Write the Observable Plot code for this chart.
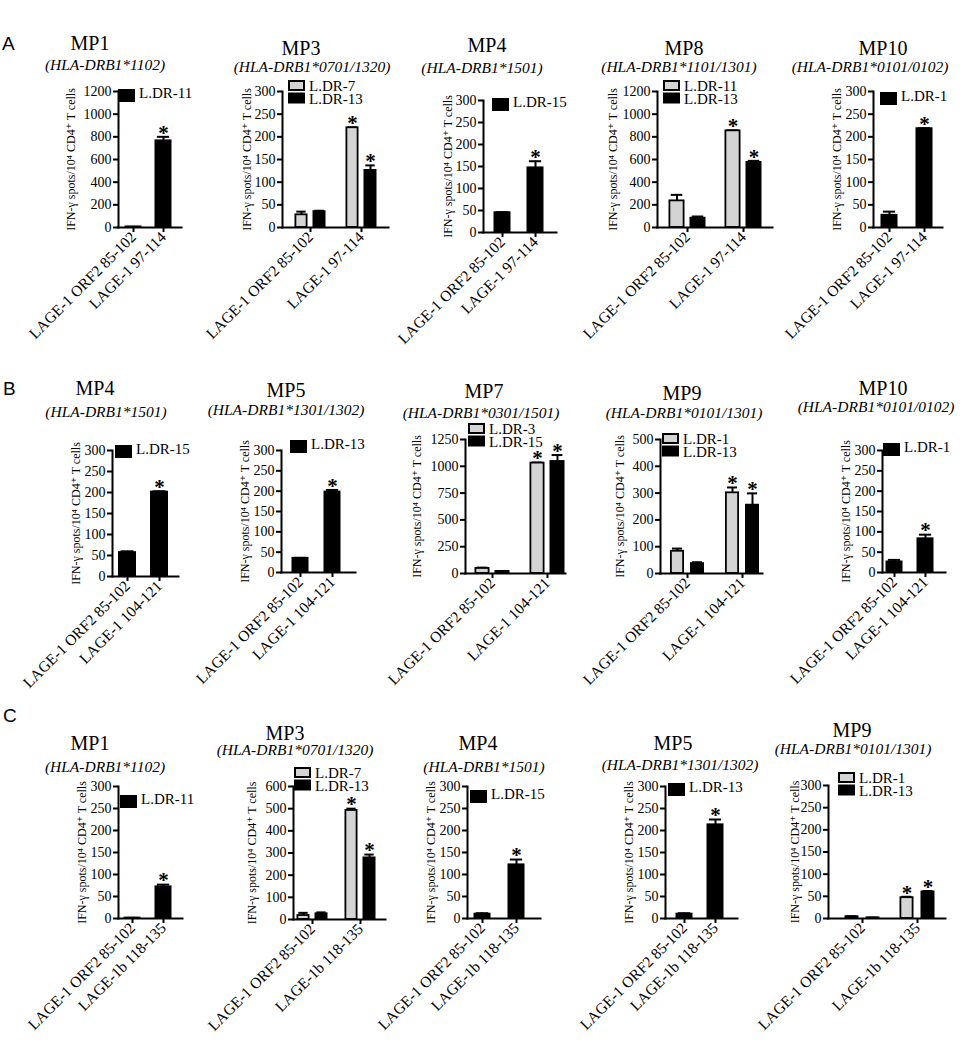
<!DOCTYPE html>
<html><head><meta charset="utf-8">
<script src="https://cdn.jsdelivr.net/npm/d3@7"></script>
<script src="https://cdn.jsdelivr.net/npm/@observablehq/plot@0.6"></script>
<style>
body{margin:0;background:#fff;}
#fig{position:relative;width:963px;height:1050px;overflow:hidden;background:#fff;font-family:"Liberation Serif","Times New Roman",Times,"DejaVu Serif",serif;color:#000}
</style></head><body><div id="fig"></div>
<script>
// ---------------- DATA ----------------
const rowLetters = ["A", "B", "C"];
const categoriesA = ["LAGE-1 ORF2 85-102", "LAGE-1 97-114"];
const categoriesB = ["LAGE-1 ORF2 85-102", "LAGE-1 104-121"];
const categoriesC = ["LAGE-1 ORF2 85-102", "LAGE-1b 118-135"];
const yAxisLabel = "IFN-γ spots/10⁴ CD4⁺ T cells";
const panelTitles = ["MP1","MP3","MP4","MP8","MP10", "MP4","MP5","MP7","MP9","MP10", "MP1","MP3","MP4","MP5","MP9"];
const panelGenotypes = [
  "HLA-DRB1*1102","HLA-DRB1*0701/1320","HLA-DRB1*1501","HLA-DRB1*1101/1301","HLA-DRB1*0101/0102",
  "HLA-DRB1*1501","HLA-DRB1*1301/1302","HLA-DRB1*0301/1501","HLA-DRB1*0101/1301","HLA-DRB1*0101/0102",
  "HLA-DRB1*1102","HLA-DRB1*0701/1320","HLA-DRB1*1501","HLA-DRB1*1301/1302","HLA-DRB1*0101/1301"];
const panelSeries = [
  ["L.DR-11"],["L.DR-7","L.DR-13"],["L.DR-15"],["L.DR-11","L.DR-13"],["L.DR-1"],
  ["L.DR-15"],["L.DR-13"],["L.DR-3","L.DR-15"],["L.DR-1","L.DR-13"],["L.DR-1"],
  ["L.DR-11"],["L.DR-7","L.DR-13"],["L.DR-15"],["L.DR-13"],["L.DR-1","L.DR-13"]];
// means [panel][series][category]
const panelMeans = [
  [[5,765]], [[28,220],[35,126]], [[45,147]], [[235,853],[82,574]], [[27,218]],
  [[57,201]], [[35,198]], [[47,1030],[20,1045]], [[83,301],[37,255]], [[26,83]],
  [[1,72]], [[18,492],[26,278]], [[10,122]], [[10,213]], [[4,47],[1.5,60]]];
// SEM [panel][series][category]
const panelSems = [
  [[1,35]], [[7,1],[2,11]], [[1,15]], [[53,4],[15,14]], [[8,1]],
  [[3,2]], [[1,5]], [[8,5],[2,60]], [[10,20],[5,44]], [[5,10]],
  [[0.5,5]], [[12,8],[6,15]], [[2,12]], [[2,12]], [[1,2],[0.5,2]]];
// significance star [panel][series][category]
const panelStars = panelSeries.map(s => s.map(() => [false, true]));
const yMaxValues = [1200,300,300,1200,300, 300,300,1250,500,300, 300,600,300,300,300];
const yTickSteps = [200,50,50,200,50, 50,50,250,100,50, 50,100,50,50,50];

// ---------------- LAYOUT (pixels) ----------------
const layout = [
  {ax:118,xEnd:181,top:91,zero:227,c1:133,c2:163,bw:17,sp:0,t:[90,50],s:[105,70],lg:[118,89],lo:47},
  {ax:282,xEnd:388,top:91,zero:227,c1:310,c2:361,bw:13,sp:18,t:[301,55],s:[312,72],lg:[288,80],lo:35},
  {ax:483,xEnd:556,top:100,zero:232,c1:502,c2:535,bw:17,sp:0,t:[487,52],s:[482,73],lg:[492,98],lo:35},
  {ax:657,xEnd:772,top:91,zero:227,c1:687,c2:743,bw:16,sp:21,t:[684,55],s:[679,72],lg:[663,80],lo:44},
  {ax:873,xEnd:942,top:91,zero:227,c1:889,c2:924,bw:17,sp:0,t:[883,55],s:[870,72],lg:[880,92],lo:36},
  {ax:112,xEnd:178,top:450,zero:576,c1:127,c2:159,bw:18,sp:0,t:[95,395],s:[106,417],lg:[115,445],lo:36},
  {ax:281,xEnd:355,top:450,zero:572,c1:300,c2:332,bw:17,sp:0,t:[286,397],s:[286,415],lg:[290,440],lo:36},
  {ax:465,xEnd:565,top:439,zero:573,c1:492,c2:547,bw:15,sp:20,t:[484,398],s:[481,418],lg:[468,423],lo:48},
  {ax:660,xEnd:762,top:439,zero:573,c1:687,c2:742,bw:14,sp:20,t:[682,400],s:[684,418],lg:[662,433],lo:40},
  {ax:882,xEnd:945,top:450,zero:572,c1:894,c2:925,bw:17,sp:0,t:[883,395],s:[876,412],lg:[883,443],lo:36},
  {ax:118,xEnd:182,top:786,zero:918,c1:132,c2:163,bw:17,sp:0,t:[90,750],s:[105,772],lg:[120,795],lo:36},
  {ax:293,xEnd:385,top:786,zero:919,c1:312,c2:360,bw:13,sp:18,t:[285,740],s:[295,755],lg:[294,767],lo:41},
  {ax:467,xEnd:540,top:786,zero:918,c1:482,c2:516,bw:17,sp:0,t:[478,750],s:[484,772],lg:[470,790],lo:36},
  {ax:665,xEnd:737,top:786,zero:918,c1:684,c2:715,bw:17,sp:0,t:[673,750],s:[680,770],lg:[668,783],lo:36},
  {ax:828,xEnd:945,top:785,zero:918,c1:862,c2:917,bw:14,sp:21,t:[852,737],s:[853,754],lg:[838,772],lo:33}];
const letterPos = [[2,50],[3,395],[3,722]];

const SERIF = '"Liberation Serif","Times New Roman",Times,"DejaVu Serif",serif';
const SANS = '"Liberation Sans",Arial,"DejaVu Sans",sans-serif';
const LIGHT = "#d4d4d4", DARK = "#000";
const PAD = 0.4, SW = 1.8;
const rowCats = [categoriesA, categoriesB, categoriesC];
const fig = document.getElementById("fig");

for (let i = 0; i < 15; i++) {
  const L = layout[i];
  const cats = rowCats[Math.floor(i / 5)];
  const series = panelSeries[i];
  const n = series.length;
  const rows = [];
  series.forEach((s, j) => cats.forEach((c, k) => rows.push({
    series: s, si: j, cat: c,
    mean: panelMeans[i][j][k], sem: panelSems[i][j][k], star: panelStars[i][j][k]})));
  const mL = 110, mT = 20, mR = 12, mB = 130;
  const W = mL + (L.xEnd - L.ax) + mR;
  const H = mT + (L.zero - L.top) + mB;
  const left = L.ax - mL, top = L.top - mT;
  const step = L.c2 - L.c1;
  const band = step * (1 - PAD);
  const ticks = d3.range(0, yMaxValues[i] + 1e-9, yTickSteps[i]);
  const marks = [];
  series.forEach((s, j) => {
    const d = rows.filter(r => r.si === j);
    const dx = (j - (n - 1) / 2) * L.sp;
    const inset = (band - (L.bw - SW)) / 2;
    const capInset = (band - L.bw * 0.72) / 2;
    const fill = (n === 2 && j === 0) ? LIGHT : DARK;
    marks.push(Plot.ruleX(d, {x: "cat", y1: "mean", y2: r => r.mean + r.sem, dx, strokeWidth: 2}));
    marks.push(Plot.tickY(d, {x: "cat", y: r => r.mean + r.sem, dx, insetLeft: capInset, insetRight: capInset, strokeWidth: 2}));
    marks.push(Plot.barY(d, {x: "cat", y: "mean", fill, stroke: "#000", strokeWidth: SW, dx, insetLeft: inset, insetRight: inset}));
    marks.push(Plot.text(d.filter(r => r.star), {x: "cat", y: r => r.mean + r.sem, dx, dy: -4, text: () => "*", fontSize: 21, fontWeight: "bold"}));
  });
  marks.push(Plot.frame({anchor: "left", strokeWidth: 2, strokeLinecap: "square"}));
  marks.push(Plot.frame({anchor: "bottom", strokeWidth: 2, strokeLinecap: "square"}));
  marks.push(Plot.axisY({ticks, tickFormat: d => String(d), tickSize: 5, tickPadding: 2, fontSize: 14, strokeWidth: 2, label: null}));
  marks.push(Plot.axisX({tickRotate: -45, tickSize: 5, tickPadding: 2, fontSize: 15.5, strokeWidth: 2, label: null}));
  marks.push(Plot.text([yAxisLabel], {frameAnchor: "left", textAnchor: "middle", rotate: -90, dx: -L.lo, fontSize: 12}));
  const svg = Plot.plot({
    width: W, height: H, marginLeft: mL, marginRight: mR, marginTop: mT, marginBottom: mB,
    x: {type: "band", domain: cats, range: [L.c1 - step / 2 - left, L.c2 + step / 2 - left], paddingInner: PAD, paddingOuter: PAD / 2, round: false},
    y: {domain: [0, yMaxValues[i]]},
    style: {fontFamily: SERIF, color: "#000", background: "transparent", overflow: "visible", position: "absolute", left: left + "px", top: top + "px", maxWidth: "none"},
    marks
  });
  svg.setAttribute("font-family", SERIF);
  fig.appendChild(svg);
}

// overlay for titles, legends and panel letters
const ov = d3.select(fig).append("svg")
  .attr("width", 963).attr("height", 1050)
  .style("position", "absolute").style("left", 0).style("top", 0)
  .style("overflow", "visible").style("pointer-events", "none");
rowLetters.forEach((l, r) => {
  ov.append("text").attr("x", letterPos[r][0]).attr("y", letterPos[r][1])
    .style("font-family", SANS).attr("font-size", 19).text(l);
});
for (let i = 0; i < 15; i++) {
  const L = layout[i];
  ov.append("text").attr("x", L.t[0]).attr("y", L.t[1]).attr("text-anchor", "middle")
    .style("font-family", SERIF).attr("font-size", 20).text(panelTitles[i]);
  ov.append("text").attr("x", L.s[0]).attr("y", L.s[1]).attr("text-anchor", "middle")
    .style("font-family", SERIF).attr("font-style", "italic").attr("font-size", 15.5)
    .text("(" + panelGenotypes[i] + ")");
  const series = panelSeries[i];
  const n = series.length;
  series.forEach((s, j) => {
    const h = n === 2 ? 11 : 13;
    const y = L.lg[1] + j * 12.5;
    const light = n === 2 && j === 0;
    ov.append("rect").attr("x", L.lg[0] + 1).attr("y", y + 1).attr("width", 15).attr("height", h - 2)
      .attr("fill", light ? LIGHT : DARK).attr("stroke", "#000").attr("stroke-width", 2);
    ov.append("text").attr("x", L.lg[0] + 21).attr("y", y + (n === 2 ? 11 : 9))
      .style("font-family", SERIF).attr("font-size", 15).text(s);
  });
}
</script>
</body></html>
